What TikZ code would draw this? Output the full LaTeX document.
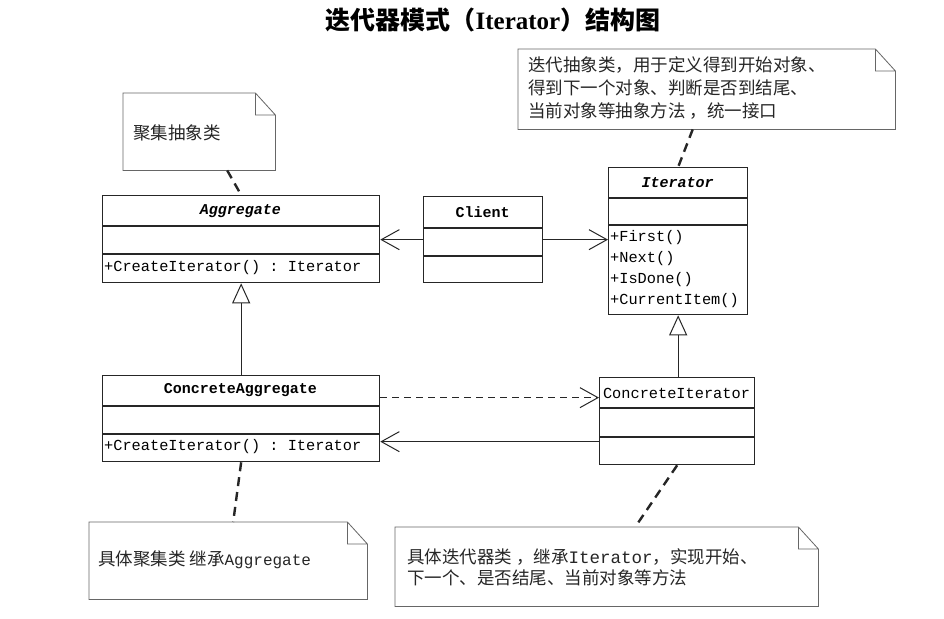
\documentclass[tikz,border=0pt]{standalone}
\usepackage{fontspec}
\setmainfont{Liberation Serif}
\setmonofont{Liberation Mono}
\newfontfamily\cjk{Noto Sans CJK SC}
\usetikzlibrary{arrows.meta}

\tikzset{
  classbox/.style={draw=black!85, line width=1.3pt, inner sep=0pt, anchor=north west},
  classrule/.style={black!85, line width=1.3pt},
  classname/.style={font=\fontsize{15}{18}\selectfont\ttfamily\bfseries, inner sep=0pt},
  member/.style={font=\fontsize{15.3}{18}\selectfont\ttfamily, anchor=west, inner sep=0pt},
  notebox/.style={inner sep=0pt, anchor=north west},
  notetext/.style={font=\fontsize{17.5}{22}\selectfont\cjk, anchor=west, align=left, inner sep=0pt, black!85},
  noteline/.style={draw=black!60, line width=0.8pt},
  anchorline/.style={black!85, line width=2.4pt, dash pattern=on 9pt off 6pt},
  assoc/.style={-{Straight Barb[length=18pt,width=20pt,line width=1pt]}, line width=1pt, black!85},
  inherit/.style={-{Triangle[open,length=20pt,width=18pt,line width=1pt]}, line width=1pt, black!85}
}

\begin{document}
\begin{tikzpicture}[x=1pt, y=-1pt]

\fill[white] (0,0) rectangle (944,618);
\useasboundingbox (0,0) rectangle (944,618);

% title
\node[font=\fontsize{25}{28}\selectfont\cjk\bfseries] (title) at (493,20) {迭代器模式（{\rmfamily\bfseries Iterator}）结构图};

% classes
\node[classbox, minimum width=277pt, minimum height=87pt] (agg) at (102,195) {};
\node[classbox, minimum width=119pt, minimum height=86pt] (client) at (423,196) {};
\node[classbox, minimum width=139pt, minimum height=147pt] (iter) at (608,167) {};
\node[classbox, minimum width=277pt, minimum height=86pt] (cagg) at (102,375) {};
\node[classbox, minimum width=155pt, minimum height=87pt] (citer) at (599,377) {};

\foreach \b/\y in {agg/226, agg/254, client/228, client/256, iter/198, iter/225, cagg/406, cagg/434, citer/408, citer/437}
  \draw[classrule] (\b.west |- 0,\y) -- (\b.east |- 0,\y);

\node[classname, font=\fontsize{15}{18}\selectfont\ttfamily\bfseries\itshape] (aggname) at (240.5,211) {Aggregate};
\node[classname] (clientname) at (482.5,212) {Client};
\node[classname, font=\fontsize{15}{18}\selectfont\ttfamily\bfseries\itshape] (itername) at (677.5,183) {Iterator};
\node[classname] (caggname) at (240.5,390) {ConcreteAggregate};
\node[classname, font=\fontsize{15.3}{18}\selectfont\ttfamily] (citername) at (676.5,393) {ConcreteIterator};

\node[member] (aggop) at (104,268) {+CreateIterator() : Iterator};
\node[member] (caggop) at (104,447) {+CreateIterator() : Iterator};
\foreach \op/\y [count=\i] in {First()/238, Next()/259, IsDone()/280, CurrentItem()/301}
  \node[member] (iterop\i) at (610,\y) {+\op};

% relations
\draw[assoc] (client.west) -- (client.west -| agg.east);
\draw[assoc] (client.east) -- (client.east -| iter.west);
\draw[inherit] (cagg.north) -- (agg.south);
\draw[inherit] (iter.south |- citer.north) -- (iter.south);
\draw[assoc, dash pattern=on 7pt off 5pt] ([yshift=21pt]cagg.east) -- ([yshift=21pt]cagg.east -| citer.west);
\draw[assoc] ([yshift=-23pt]cagg.east -| citer.west) -- ([yshift=-23pt]cagg.east);

% notes
\node[notebox, minimum width=377pt, minimum height=80pt] (iternote) at (518,49) {};
\node[notebox, minimum width=152pt, minimum height=77pt] (aggnote) at (123,93) {};
\node[notebox, minimum width=278pt, minimum height=77pt] (caggnote) at (89,522) {};
\node[notebox, minimum width=423pt, minimum height=79pt] (citernote) at (395,527) {};

\foreach \n in {iternote, aggnote, caggnote, citernote}
  \draw[noteline] (\n.north west) -- ([xshift=-20pt]\n.north east) -- ([yshift=-22pt]\n.north east)
    -- (\n.south east) -- (\n.south west) -- cycle
    ([xshift=-20pt]\n.north east) |- ([yshift=-22pt]\n.north east);

\node[notetext, font=\fontsize{17.5}{23}\selectfont\cjk] (iternotetext) at (528,88) {迭代抽象类，用于定义得到开始对象、\\得到下一个对象、判断是否到结尾、\\当前对象等抽象方法 ，统一接口};
\node[notetext] (aggnotetext) at (133,133) {聚集抽象类};
\node[notetext] (caggnotetext) at (98,560) {具体聚集类 继承{\ttfamily\fontsize{16}{22}\selectfont Aggregate}};
\node[notetext, font=\fontsize{17.5}{21}\selectfont\cjk] (citernotetext) at (407,567) {具体迭代器类 ，继承{\ttfamily Iterator}，实现开始、\\下一个、是否结尾、当前对象等方法};

\draw[anchorline] ([xshift=-14pt]iternote.south) -- (iter.north);
\draw[anchorline] ([xshift=28pt]aggnote.south) -- (agg.north);
\draw[anchorline] (cagg.south) -- ([xshift=5pt]caggnote.north);
\draw[anchorline] (citer.south) -- ([xshift=28.5pt]citernote.north);

\end{tikzpicture}
\end{document}
